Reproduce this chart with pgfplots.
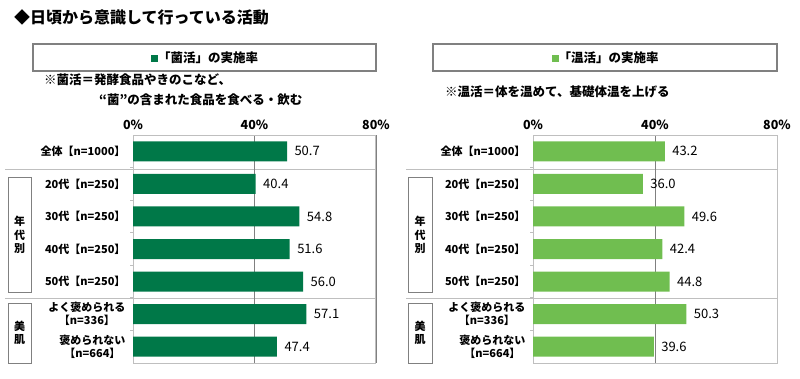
\documentclass[border=0pt]{standalone}
\usepackage{fontspec}
\setmainfont{Noto Sans CJK JP}
\usepackage{pgfplots}
\pgfplotsset{compat=1.18}
\definecolor{dg}{RGB}{0,120,72}
\definecolor{lg}{RGB}{112,190,80}
\definecolor{framec}{RGB}{191,191,191}
\definecolor{gridc}{RGB}{128,128,128}
\definecolor{boxc}{RGB}{128,128,128}
\pgfplotsset{mystyle/.style={
  xbar, scale only axis, height=228pt, y dir=reverse,
  xmin=0, xmax=80, ymin=-0.5, ymax=6.5,
  xtick={0,40,80}, xticklabels={0\%,40\%,80\%}, xticklabel pos=upper,
  major tick length=0pt,
  xmajorgrids, grid style={gridc, line width=0.8pt},
  axis line style={framec, line width=1pt},
  ytick={0,...,6},
  yticklabels={全体【n=1000】,20代【n=250】,30代【n=250】,40代【n=250】,50代【n=250】,よく褒められる\\【n=336】,褒められない\\【n=664】},
  minor ytick={0.5,1.5,...,5.5}, minor tick length=3pt, tick align=outside,
  ytick pos=left, minor tick style={framec, line width=0.8pt},
  bar width=20pt,
  point meta=x,
  nodes near coords={\pgfmathprintnumber[fixed,fixed zerofill,precision=1]{\pgfplotspointmeta}},
  nodes near coords style={anchor=west, xshift=4pt, font=\fontsize{13}{13}\selectfont},
  yticklabel style={align=center, font=\bfseries\fontsize{11}{13}\selectfont, xshift=-4pt},
  xticklabel style={font=\bfseries\fontsize{12.5}{12.5}\selectfont, yshift=2pt},
  /pgf/number format/assume math mode=true,
}}
\begin{document}
\begin{tikzpicture}
\path[use as bounding box] (0,0) rectangle (800pt,378pt);
% title
\node[anchor=west, font=\bfseries\fontsize{16}{16}\selectfont, inner sep=0pt] at (14pt,361pt) {◆日頃から意識して行っている活動};
% header boxes
\draw[boxc, line width=1.2pt, fill=white] (33pt,307pt) rectangle (376pt,334pt);
\node[font=\bfseries\fontsize{12.5}{12.5}\selectfont] at (204.5pt,320.5pt) {{\color{dg}\rule{7pt}{7pt}}「菌活」の実施率};
\draw[boxc, line width=1.2pt, fill=white] (433pt,307pt) rectangle (777pt,334pt);
\node[font=\bfseries\fontsize{12.5}{12.5}\selectfont] at (605pt,320.5pt) {{\color{lg}\rule{7pt}{7pt}}「温活」の実施率};
% notes
\node[anchor=west, inner sep=0pt, font=\bfseries\fontsize{12.5}{12.5}\selectfont] at (44pt,298pt) {※菌活＝発酵食品やきのこなど、};
\node[anchor=west, inner sep=0pt, font=\bfseries\fontsize{12.5}{12.5}\selectfont] at (99pt,278pt) {“菌”の含まれた食品を食べる・飲む};
\node[anchor=west, inner sep=0pt, font=\bfseries\fontsize{12.5}{12.5}\selectfont] at (445pt,286pt) {※温活＝体を温めて、基礎体温を上げる};
% separators
\draw[framec, line width=1pt] (5pt,208pt) -- (376pt,208pt);
\draw[framec, line width=1pt] (5pt,80pt) -- (376pt,80pt);
\draw[framec, line width=1pt] (406pt,208pt) -- (777pt,208pt);
\draw[framec, line width=1pt] (406pt,80pt) -- (777pt,80pt);
% group boxes
\draw[boxc, line width=1pt] (8pt,86pt) rectangle (31pt,200pt);
\node[align=center, font=\bfseries\fontsize{11}{13.5}\selectfont] at (19.5pt,143pt) {年\\代\\別};
\draw[boxc, line width=1pt] (8pt,15pt) rectangle (31pt,75pt);
\node[align=center, font=\bfseries\fontsize{11}{13}\selectfont] at (19.5pt,45pt) {美\\肌};
\draw[boxc, line width=1pt] (408pt,86pt) rectangle (432pt,200pt);
\node[align=center, font=\bfseries\fontsize{11}{13.5}\selectfont] at (420pt,143pt) {年\\代\\別};
\draw[boxc, line width=1pt] (408pt,15pt) rectangle (432pt,75pt);
\node[align=center, font=\bfseries\fontsize{11}{13}\selectfont] at (420pt,45pt) {美\\肌};
% left axis
\begin{axis}[mystyle, at={(133pt,15pt)}, anchor=south west, width=243pt]
\addplot[fill=dg, draw=none] coordinates {(50.7,0) (40.4,1) (54.8,2) (51.6,3) (56.0,4) (57.1,5) (47.4,6)};
\end{axis}
% right axis
\begin{axis}[mystyle, at={(533pt,15pt)}, anchor=south west, width=244pt]
\addplot[fill=lg, draw=none] coordinates {(43.2,0) (36.0,1) (49.6,2) (42.4,3) (44.8,4) (50.3,5) (39.6,6)};
\end{axis}
\end{tikzpicture}
\end{document}
